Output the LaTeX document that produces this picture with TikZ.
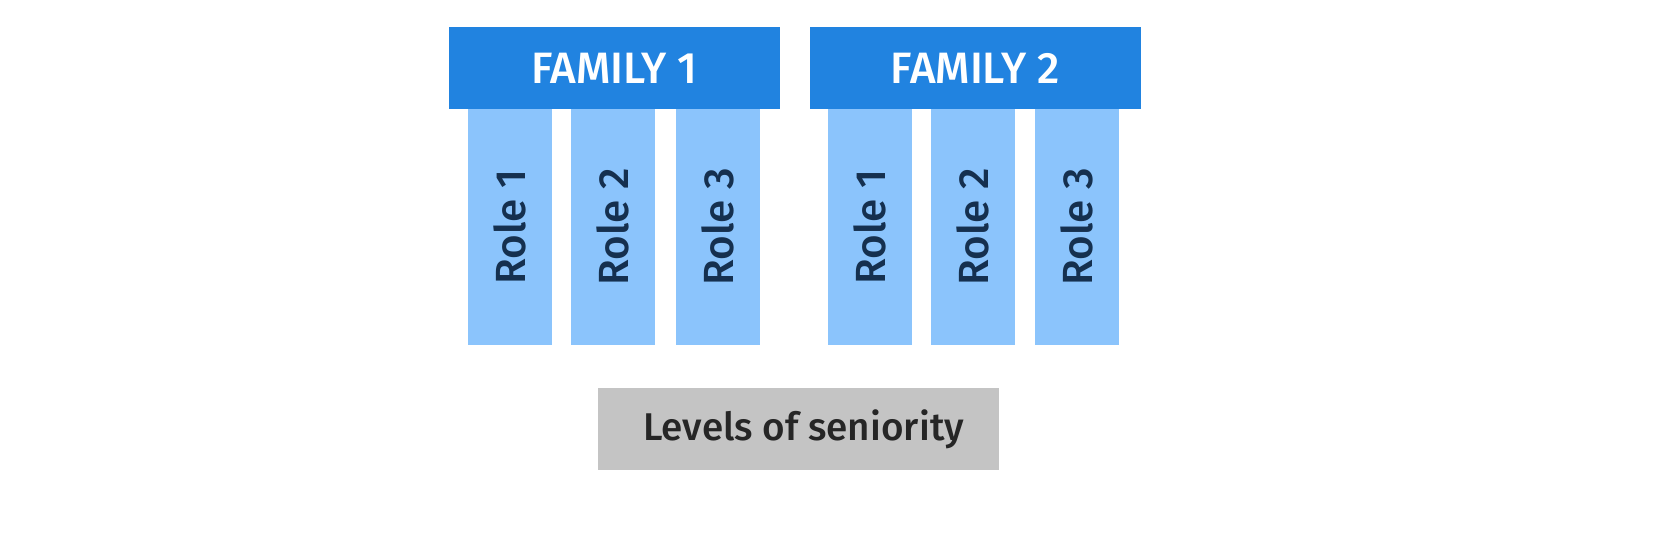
\documentclass[tikz,border=0pt]{standalone}
\usepackage{fontspec}
\setmainfont{Fira Sans}[UprightFont=* Medium]
\usetikzlibrary{positioning}
\definecolor{famblue}{HTML}{2183E0}
\definecolor{roleblue}{HTML}{8BC4FC}
\definecolor{roletext}{HTML}{15304F}
\definecolor{levelgray}{HTML}{C4C4C4}
\begin{document}
\begin{tikzpicture}[node distance=0.58cm,
    family/.style={fill=famblue, text=white, minimum width=6.62cm, minimum height=1.64cm, font=\fontsize{25}{28}\selectfont},
    role/.style={fill=roleblue, text=roletext, minimum width=1.68cm, minimum height=4.72cm, font=\fontsize{24}{28}\selectfont},
    level/.style={fill=levelgray, text=black!85, minimum width=8.02cm, minimum height=1.64cm, font=\fontsize{22}{26}\selectfont}
    ]
    \useasboundingbox (0,0) rectangle (33.6,10.82);

    \node[family] (fam_1) at (12.29,9.46) {FAMILY 1};
    \node[family] (fam_2) [right=of fam_1] {FAMILY 2};

    \foreach \f/\xa/\xb/\xc in {1/10.2/12.26/14.36, 2/17.4/19.46/21.54} {
        \node[role] (r_\f_1) at (\xa,6.28) {\rotatebox{90}{Role 1}};
        \node[role] (r_\f_2) at (\xb,6.28) {\rotatebox{90}{Role 2}};
        \node[role] (r_\f_3) at (\xc,6.28) {\rotatebox{90}{Role 3}};
    }

    \node[level] (lvl) at (15.97,2.24) {\hspace{0.2cm}Levels of seniority};
\end{tikzpicture}
\end{document}
